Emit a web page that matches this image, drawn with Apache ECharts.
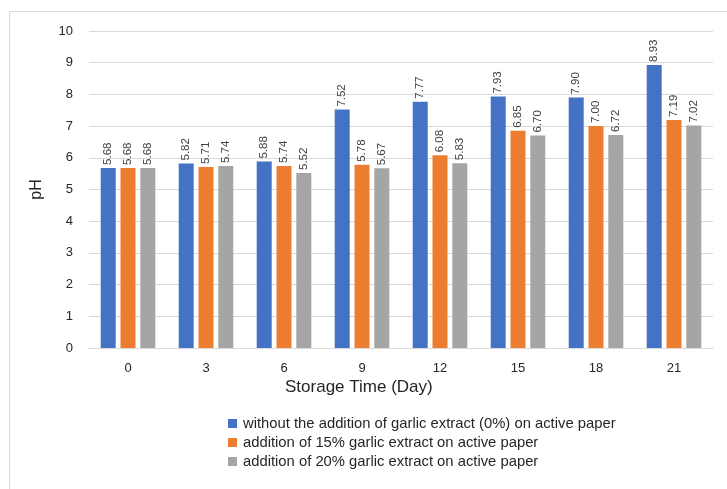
<!DOCTYPE html>
<html>
<head>
<meta charset="utf-8">
<script src="https://cdn.jsdelivr.net/npm/echarts@6/dist/echarts.min.js"></script>
<style>
  html, body { margin: 0; padding: 0; background: #ffffff; }
  #chart { width: 727px; height: 489px; }
</style>
</head>
<body>
<div id="chart"></div>
<script>
// Storage days on the x axis
const days = ['0', '3', '6', '9', '12', '15', '18', '21'];

// pH readings for each paper treatment
const phControl = [5.68, 5.82, 5.88, 7.52, 7.77, 7.93, 7.90, 8.93];
const phGarlic15 = [5.68, 5.71, 5.74, 5.78, 6.08, 6.85, 7.00, 7.19];
const phGarlic20 = [5.68, 5.74, 5.52, 5.67, 5.83, 6.70, 6.72, 7.02];

const seriesNames = [
  'without the addition of garlic extract (0%) on active paper',
  'addition of 15% garlic extract on active paper',
  'addition of 20% garlic extract on active paper'
];
const seriesColors = ['#4472C4', '#ED7D31', '#A5A5A5'];

const FONT = 'Liberation Sans';

function barSeries(name, values, color) {
  return {
    name: name,
    type: 'bar',
    data: values,
    barWidth: 15,
    barGap: '32%',
    itemStyle: { color: color },
    label: {
      show: true,
      position: 'top',
      rotate: 90,
      align: 'left',
      verticalAlign: 'middle',
      distance: 3,
      fontFamily: FONT,
      fontSize: 11.5,
      color: '#404040',
      formatter: p => p.value.toFixed(2)
    }
  };
}

const chart = echarts.init(document.getElementById('chart'), null, { renderer: 'canvas' });

chart.setOption({
  animation: false,
  backgroundColor: '#ffffff',
  textStyle: { fontFamily: FONT },
  graphic: [
    {
      type: 'rect',
      left: 7, top: 9,
      shape: { width: 760, height: 520 },
      style: { fill: 'none', stroke: '#d9d9d9', lineWidth: 1 },
      z: -1
    },
    {
      type: 'text',
      left: 285,
      top: 379,
      style: {
        text: 'Storage Time (Day)',
        fontFamily: FONT,
        fontSize: 17,
        fill: '#262626'
      }
    }
  ],
  grid: { left: 89, right: 14, top: 31, bottom: 141 },
  legend: {
    orient: 'vertical',
    left: 223,
    top: 411,
    itemWidth: 9,
    itemHeight: 9,
    itemGap: 4,
    icon: 'rect',
    textStyle: { fontFamily: FONT, fontSize: 14.8, color: '#262626', padding: [0, 0, 0, 1] },
    data: seriesNames
  },
  xAxis: {
    type: 'category',
    data: days,
    axisLine: { lineStyle: { color: '#d9d9d9' } },
    axisTick: { show: false },
    axisLabel: { fontFamily: FONT, fontSize: 13, color: '#262626', margin: 14 }
  },
  yAxis: {
    type: 'value',
    min: 0,
    max: 10,
    interval: 1,
    name: 'pH',
    nameLocation: 'middle',
    nameGap: 44,
    nameRotate: 90,
    nameTextStyle: { fontFamily: FONT, fontSize: 16, color: '#262626' },
    axisLine: { show: false },
    axisTick: { show: false },
    splitLine: { lineStyle: { color: '#d9d9d9' } },
    axisLabel: { fontFamily: FONT, fontSize: 13, color: '#262626', margin: 16 }
  },
  series: [
    barSeries(seriesNames[0], phControl, seriesColors[0]),
    barSeries(seriesNames[1], phGarlic15, seriesColors[1]),
    barSeries(seriesNames[2], phGarlic20, seriesColors[2])
  ]
});
</script>
</body>
</html>
